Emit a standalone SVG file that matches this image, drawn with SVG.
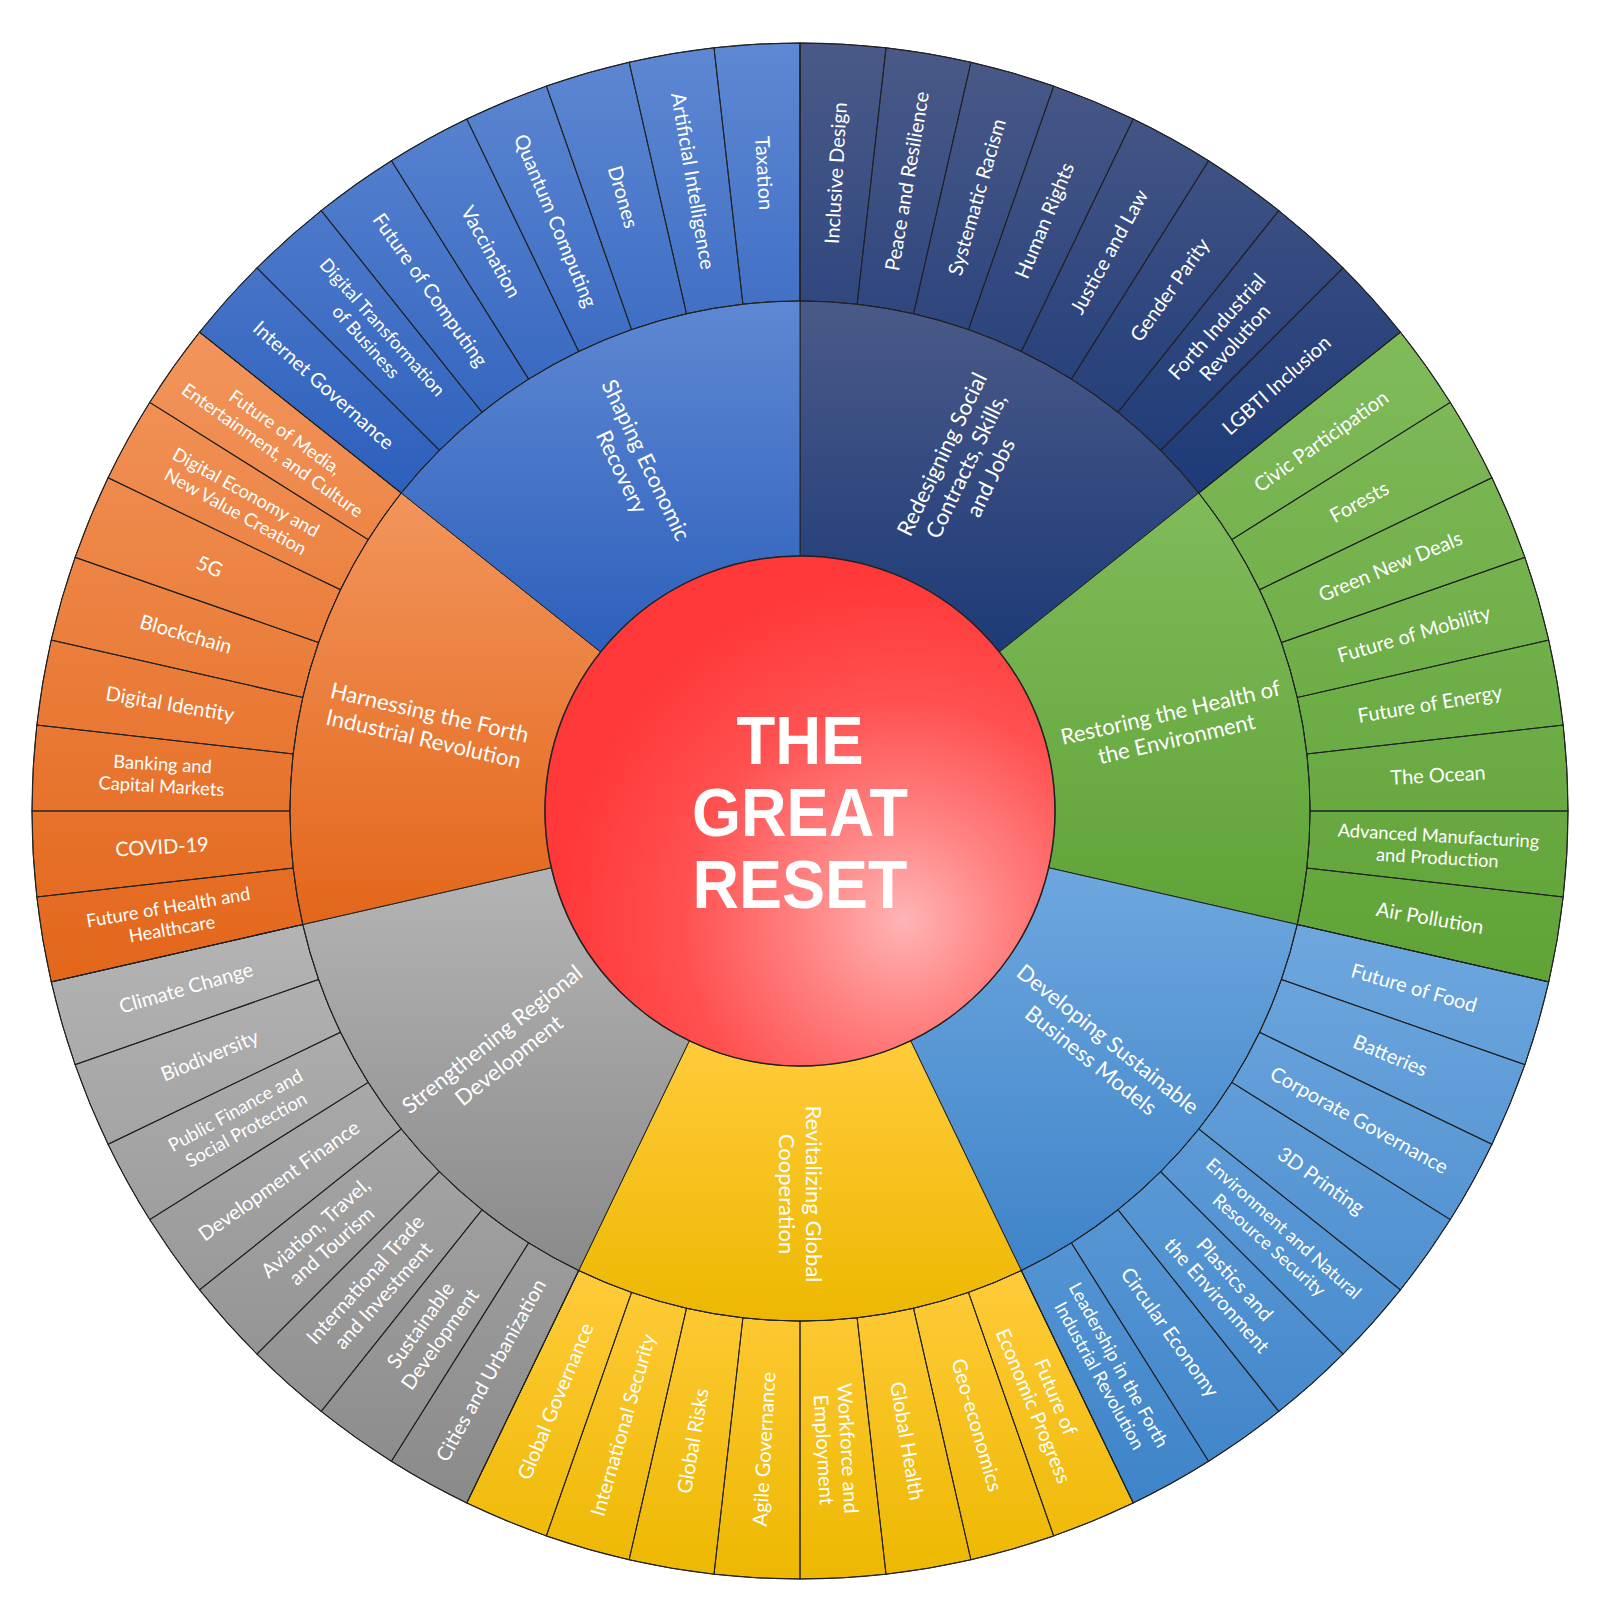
<svg xmlns="http://www.w3.org/2000/svg" xmlns:xlink="http://www.w3.org/1999/xlink" width="1600" height="1624" viewBox="0 0 1600 1624">
<defs>
<style>
.band{stroke:#222;stroke-width:1}
.sector{stroke:#222;stroke-width:1}
.lo{fill:none;stroke:#222;stroke-width:1}
.lbl{font-family:Lato,'Liberation Sans',sans-serif;fill:#fff;text-anchor:middle;font-size:20px}
.sm{font-size:18.3px}
.mid{font-size:22px}
.title{font-family:'Liberation Sans',Arial,sans-serif;font-weight:bold;font-size:68px;fill:#fff;text-anchor:middle}
</style>
<linearGradient id="g-navy" x1="0" y1="0" x2="0" y2="1"><stop offset="0" stop-color="#4A5A88"/><stop offset="1" stop-color="#1D3A78"/></linearGradient>
<linearGradient id="g-green" x1="0" y1="0" x2="0" y2="1"><stop offset="0" stop-color="#80BB5A"/><stop offset="1" stop-color="#5FA337"/></linearGradient>
<linearGradient id="g-lblue" x1="0" y1="0" x2="0" y2="1"><stop offset="0" stop-color="#6EA7DE"/><stop offset="1" stop-color="#3E84C9"/></linearGradient>
<linearGradient id="g-yellow" x1="0" y1="0" x2="0" y2="1"><stop offset="0" stop-color="#FFCB3A"/><stop offset="1" stop-color="#EDB800"/></linearGradient>
<linearGradient id="g-gray" x1="0" y1="0" x2="0" y2="1"><stop offset="0" stop-color="#B4B4B4"/><stop offset="1" stop-color="#8A8A8A"/></linearGradient>
<linearGradient id="g-orange" x1="0" y1="0" x2="0" y2="1"><stop offset="0" stop-color="#F2955C"/><stop offset="1" stop-color="#E3661A"/></linearGradient>
<linearGradient id="g-blue" x1="0" y1="0" x2="0" y2="1"><stop offset="0" stop-color="#5E88D3"/><stop offset="1" stop-color="#2D60BC"/></linearGradient>
<radialGradient id="g-red" gradientUnits="userSpaceOnUse" cx="903" cy="920" r="340"><stop offset="0" stop-color="#FFB4B4"/><stop offset="0.3" stop-color="#FF8282"/><stop offset="0.65" stop-color="#FF5050"/><stop offset="1" stop-color="#FF3939"/></radialGradient>
<path id="leafShape" d="M 756.938 44.208 A 768 768 0 0 1 843.062 44.208 L 828.596 301.802 A 510 510 0 0 0 771.404 301.802 Z"/>
</defs>

<g id="bands">
<path class="band" fill="url(#g-navy)" d="M 800 43 A 768 768 0 0 1 1400.446 332.160 L 1198.734 493.020 A 510 510 0 0 0 800 301 Z"/>
<path class="band" fill="url(#g-green)" d="M 1400.446 332.160 A 768 768 0 0 1 1548.745 981.896 L 1297.213 924.486 A 510 510 0 0 0 1198.734 493.020 Z"/>
<path class="band" fill="url(#g-lblue)" d="M 1548.745 981.896 A 768 768 0 0 1 1133.223 1502.944 L 1021.281 1270.494 A 510 510 0 0 0 1297.213 924.486 Z"/>
<path class="band" fill="url(#g-yellow)" d="M 1133.223 1502.944 A 768 768 0 0 1 466.777 1502.944 L 578.719 1270.494 A 510 510 0 0 0 1021.281 1270.494 Z"/>
<path class="band" fill="url(#g-gray)" d="M 466.777 1502.944 A 768 768 0 0 1 51.255 981.896 L 302.787 924.486 A 510 510 0 0 0 578.719 1270.494 Z"/>
<path class="band" fill="url(#g-orange)" d="M 51.255 981.896 A 768 768 0 0 1 199.554 332.160 L 401.266 493.020 A 510 510 0 0 0 302.787 924.486 Z"/>
<path class="band" fill="url(#g-blue)" d="M 199.554 332.160 A 768 768 0 0 1 800 43 L 800 301 A 510 510 0 0 0 401.266 493.020 Z"/>
</g>

<g id="cat-redesigning">
<path class="sector" fill="url(#g-navy)" d="M 800 301 A 510 510 0 0 1 1198.734 493.020 L 999.367 652.010 A 255 255 0 0 0 800 556 Z"/>
<text class="lbl mid" transform="rotate(25.714 800 811) translate(800 428) rotate(-90)"><tspan x="0" y="-19.3">Redesigning Social</tspan><tspan x="0" y="7.7">Contracts, Skills,</tspan><tspan x="0" y="34.7">and Jobs</tspan></text>
</g>
<g id="cat-restoring">
<path class="sector" fill="url(#g-green)" d="M 1198.734 493.020 A 510 510 0 0 1 1297.213 924.486 L 1048.607 867.743 A 255 255 0 0 0 999.367 652.010 Z"/>
<text class="lbl mid" transform="rotate(77.143 800 811) translate(800 428) rotate(-90)"><tspan x="0" y="-5.8">Restoring the Health of</tspan><tspan x="0" y="21.2">the Environment</tspan></text>
</g>
<g id="cat-developing">
<path class="sector" fill="url(#g-lblue)" d="M 1297.213 924.486 A 510 510 0 0 1 1021.281 1270.494 L 910.640 1040.747 A 255 255 0 0 0 1048.607 867.743 Z"/>
<text class="lbl mid" transform="rotate(128.571 800 811) translate(800 428) rotate(-90)"><tspan x="0" y="-5.8">Developing Sustainable</tspan><tspan x="0" y="21.2">Business Models</tspan></text>
</g>
<g id="cat-revitalizing">
<path class="sector" fill="url(#g-yellow)" d="M 1021.281 1270.494 A 510 510 0 0 1 578.719 1270.494 L 689.360 1040.747 A 255 255 0 0 0 910.640 1040.747 Z"/>
<text class="lbl mid" transform="rotate(180 800 811) translate(800 428) rotate(-90)"><tspan x="0" y="-5.8">Revitalizing Global</tspan><tspan x="0" y="21.2">Cooperation</tspan></text>
</g>
<g id="cat-strengthening">
<path class="sector" fill="url(#g-gray)" d="M 578.719 1270.494 A 510 510 0 0 1 302.787 924.486 L 551.393 867.743 A 255 255 0 0 0 689.360 1040.747 Z"/>
<text class="lbl mid" transform="rotate(231.429 800 811) translate(800 428) rotate(90)"><tspan x="0" y="-5.8">Strengthening Regional</tspan><tspan x="0" y="21.2">Development</tspan></text>
</g>
<g id="cat-harnessing">
<path class="sector" fill="url(#g-orange)" d="M 302.787 924.486 A 510 510 0 0 1 401.266 493.020 L 600.633 652.010 A 255 255 0 0 0 551.393 867.743 Z"/>
<text class="lbl mid" transform="rotate(282.857 800 811) translate(800 428) rotate(90)"><tspan x="0" y="-5.8">Harnessing the Forth</tspan><tspan x="0" y="21.2">Industrial Revolution</tspan></text>
</g>
<g id="cat-shaping">
<path class="sector" fill="url(#g-blue)" d="M 401.266 493.020 A 510 510 0 0 1 800 301 L 800 556 A 255 255 0 0 0 600.633 652.010 Z"/>
<text class="lbl mid" transform="rotate(334.286 800 811) translate(800 428) rotate(90)"><tspan x="0" y="-5.8">Shaping Economic</tspan><tspan x="0" y="21.2">Recovery</tspan></text>
</g>

<g id="leaves">
<g id="leaf-00"><use href="#leafShape" class="lo" transform="rotate(3.214 800 811)"/><text class="lbl" y="7" transform="rotate(3.214 800 811) translate(800 172) rotate(-90)">Inclusive Design</text></g>
<g id="leaf-01"><use href="#leafShape" class="lo" transform="rotate(9.643 800 811)"/><text class="lbl" y="7" transform="rotate(9.643 800 811) translate(800 172) rotate(-90)">Peace and Resilience</text></g>
<g id="leaf-02"><use href="#leafShape" class="lo" transform="rotate(16.071 800 811)"/><text class="lbl" y="7" transform="rotate(16.071 800 811) translate(800 172) rotate(-90)">Systematic Racism</text></g>
<g id="leaf-03"><use href="#leafShape" class="lo" transform="rotate(22.5 800 811)"/><text class="lbl" y="7" transform="rotate(22.5 800 811) translate(800 172) rotate(-90)">Human Rights</text></g>
<g id="leaf-04"><use href="#leafShape" class="lo" transform="rotate(28.929 800 811)"/><text class="lbl" y="7" transform="rotate(28.929 800 811) translate(800 172) rotate(-90)">Justice and Law</text></g>
<g id="leaf-05"><use href="#leafShape" class="lo" transform="rotate(35.357 800 811)"/><text class="lbl" y="7" transform="rotate(35.357 800 811) translate(800 172) rotate(-90)">Gender Parity</text></g>
<g id="leaf-06"><use href="#leafShape" class="lo" transform="rotate(41.786 800 811)"/><text class="lbl" transform="rotate(41.786 800 811) translate(800 172) rotate(-90)"><tspan x="0" y="-5">Forth Industrial</tspan><tspan x="0" y="19">Revolution</tspan></text></g>
<g id="leaf-07"><use href="#leafShape" class="lo" transform="rotate(48.214 800 811)"/><text class="lbl" y="7" transform="rotate(48.214 800 811) translate(800 172) rotate(-90)">LGBTI Inclusion</text></g>

<g id="leaf-08"><use href="#leafShape" class="lo" transform="rotate(54.643 800 811)"/><text class="lbl" y="7" transform="rotate(54.643 800 811) translate(800 172) rotate(-90)">Civic Participation</text></g>
<g id="leaf-09"><use href="#leafShape" class="lo" transform="rotate(61.071 800 811)"/><text class="lbl" y="7" transform="rotate(61.071 800 811) translate(800 172) rotate(-90)">Forests</text></g>
<g id="leaf-10"><use href="#leafShape" class="lo" transform="rotate(67.5 800 811)"/><text class="lbl" y="7" transform="rotate(67.5 800 811) translate(800 172) rotate(-90)">Green New Deals</text></g>
<g id="leaf-11"><use href="#leafShape" class="lo" transform="rotate(73.929 800 811)"/><text class="lbl" y="7" transform="rotate(73.929 800 811) translate(800 172) rotate(-90)">Future of Mobility</text></g>
<g id="leaf-12"><use href="#leafShape" class="lo" transform="rotate(80.357 800 811)"/><text class="lbl" y="7" transform="rotate(80.357 800 811) translate(800 172) rotate(-90)">Future of Energy</text></g>
<g id="leaf-13"><use href="#leafShape" class="lo" transform="rotate(86.786 800 811)"/><text class="lbl" y="7" transform="rotate(86.786 800 811) translate(800 172) rotate(-90)">The Ocean</text></g>
<g id="leaf-14"><use href="#leafShape" class="lo" transform="rotate(93.214 800 811)"/><text class="lbl sm" transform="rotate(93.214 800 811) translate(800 172) rotate(-90)"><tspan x="0" y="-4.6">Advanced Manufacturing</tspan><tspan x="0" y="17.4">and Production</tspan></text></g>
<g id="leaf-15"><use href="#leafShape" class="lo" transform="rotate(99.643 800 811)"/><text class="lbl" y="7" transform="rotate(99.643 800 811) translate(800 172) rotate(-90)">Air Pollution</text></g>

<g id="leaf-16"><use href="#leafShape" class="lo" transform="rotate(106.071 800 811)"/><text class="lbl" y="7" transform="rotate(106.071 800 811) translate(800 172) rotate(-90)">Future of Food</text></g>
<g id="leaf-17"><use href="#leafShape" class="lo" transform="rotate(112.5 800 811)"/><text class="lbl" y="7" transform="rotate(112.5 800 811) translate(800 172) rotate(-90)">Batteries</text></g>
<g id="leaf-18"><use href="#leafShape" class="lo" transform="rotate(118.929 800 811)"/><text class="lbl" y="7" transform="rotate(118.929 800 811) translate(800 172) rotate(-90)">Corporate Governance</text></g>
<g id="leaf-19"><use href="#leafShape" class="lo" transform="rotate(125.357 800 811)"/><text class="lbl" y="7" transform="rotate(125.357 800 811) translate(800 172) rotate(-90)">3D Printing</text></g>
<g id="leaf-20"><use href="#leafShape" class="lo" transform="rotate(131.786 800 811)"/><text class="lbl sm" transform="rotate(131.786 800 811) translate(800 172) rotate(-90)"><tspan x="0" y="-4.6">Environment and Natural</tspan><tspan x="0" y="17.4">Resource Security</tspan></text></g>
<g id="leaf-21"><use href="#leafShape" class="lo" transform="rotate(138.214 800 811)"/><text class="lbl" transform="rotate(138.214 800 811) translate(800 172) rotate(-90)"><tspan x="0" y="-5">Plastics and</tspan><tspan x="0" y="19">the Environment</tspan></text></g>
<g id="leaf-22"><use href="#leafShape" class="lo" transform="rotate(144.643 800 811)"/><text class="lbl" y="7" transform="rotate(144.643 800 811) translate(800 172) rotate(-90)">Circular Economy</text></g>
<g id="leaf-23"><use href="#leafShape" class="lo" transform="rotate(151.071 800 811)"/><text class="lbl sm" transform="rotate(151.071 800 811) translate(800 172) rotate(-90)"><tspan x="0" y="-4.6">Leadership in the Forth</tspan><tspan x="0" y="17.4">Industrial Revolution</tspan></text></g>

<g id="leaf-24"><use href="#leafShape" class="lo" transform="rotate(157.5 800 811)"/><text class="lbl" transform="rotate(157.5 800 811) translate(800 172) rotate(-90)"><tspan x="0" y="-5">Future of</tspan><tspan x="0" y="19">Economic Progress</tspan></text></g>
<g id="leaf-25"><use href="#leafShape" class="lo" transform="rotate(163.929 800 811)"/><text class="lbl" y="7" transform="rotate(163.929 800 811) translate(800 172) rotate(-90)">Geo-economics</text></g>
<g id="leaf-26"><use href="#leafShape" class="lo" transform="rotate(170.357 800 811)"/><text class="lbl" y="7" transform="rotate(170.357 800 811) translate(800 172) rotate(-90)">Global Health</text></g>
<g id="leaf-27"><use href="#leafShape" class="lo" transform="rotate(176.786 800 811)"/><text class="lbl" transform="rotate(176.786 800 811) translate(800 172) rotate(-90)"><tspan x="0" y="-5">Workforce and</tspan><tspan x="0" y="19">Employment</tspan></text></g>
<g id="leaf-28"><use href="#leafShape" class="lo" transform="rotate(183.214 800 811)"/><text class="lbl" y="7" transform="rotate(183.214 800 811) translate(800 172) rotate(90)">Agile Governance</text></g>
<g id="leaf-29"><use href="#leafShape" class="lo" transform="rotate(189.643 800 811)"/><text class="lbl" y="7" transform="rotate(189.643 800 811) translate(800 172) rotate(90)">Global Risks</text></g>
<g id="leaf-30"><use href="#leafShape" class="lo" transform="rotate(196.071 800 811)"/><text class="lbl" y="7" transform="rotate(196.071 800 811) translate(800 172) rotate(90)">International Security</text></g>
<g id="leaf-31"><use href="#leafShape" class="lo" transform="rotate(202.5 800 811)"/><text class="lbl" y="7" transform="rotate(202.5 800 811) translate(800 172) rotate(90)">Global Governance</text></g>

<g id="leaf-32"><use href="#leafShape" class="lo" transform="rotate(208.929 800 811)"/><text class="lbl" y="7" transform="rotate(208.929 800 811) translate(800 172) rotate(90)">Cities and Urbanization</text></g>
<g id="leaf-33"><use href="#leafShape" class="lo" transform="rotate(215.357 800 811)"/><text class="lbl" transform="rotate(215.357 800 811) translate(800 172) rotate(90)"><tspan x="0" y="-5">Sustainable</tspan><tspan x="0" y="19">Development</tspan></text></g>
<g id="leaf-34"><use href="#leafShape" class="lo" transform="rotate(221.786 800 811)"/><text class="lbl" transform="rotate(221.786 800 811) translate(800 172) rotate(90)"><tspan x="0" y="-5">International Trade</tspan><tspan x="0" y="19">and Investment</tspan></text></g>
<g id="leaf-35"><use href="#leafShape" class="lo" transform="rotate(228.214 800 811)"/><text class="lbl" transform="rotate(228.214 800 811) translate(800 172) rotate(90)"><tspan x="0" y="-5">Aviation, Travel,</tspan><tspan x="0" y="19">and Tourism</tspan></text></g>
<g id="leaf-36"><use href="#leafShape" class="lo" transform="rotate(234.643 800 811)"/><text class="lbl" y="7" transform="rotate(234.643 800 811) translate(800 172) rotate(90)">Development Finance</text></g>
<g id="leaf-37"><use href="#leafShape" class="lo" transform="rotate(241.071 800 811)"/><text class="lbl sm" transform="rotate(241.071 800 811) translate(800 172) rotate(90)"><tspan x="0" y="-4.6">Public Finance and</tspan><tspan x="0" y="17.4">Social Protection</tspan></text></g>
<g id="leaf-38"><use href="#leafShape" class="lo" transform="rotate(247.5 800 811)"/><text class="lbl" y="7" transform="rotate(247.5 800 811) translate(800 172) rotate(90)">Biodiversity</text></g>
<g id="leaf-39"><use href="#leafShape" class="lo" transform="rotate(253.929 800 811)"/><text class="lbl" y="7" transform="rotate(253.929 800 811) translate(800 172) rotate(90)">Climate Change</text></g>

<g id="leaf-40"><use href="#leafShape" class="lo" transform="rotate(260.357 800 811)"/><text class="lbl sm" transform="rotate(260.357 800 811) translate(800 172) rotate(90)"><tspan x="0" y="-4.6">Future of Health and</tspan><tspan x="0" y="17.4">Healthcare</tspan></text></g>
<g id="leaf-41"><use href="#leafShape" class="lo" transform="rotate(266.786 800 811)"/><text class="lbl" y="7" transform="rotate(266.786 800 811) translate(800 172) rotate(90)">COVID-19</text></g>
<g id="leaf-42"><use href="#leafShape" class="lo" transform="rotate(273.214 800 811)"/><text class="lbl sm" transform="rotate(273.214 800 811) translate(800 172) rotate(90)"><tspan x="0" y="-4.6">Banking and</tspan><tspan x="0" y="17.4">Capital Markets</tspan></text></g>
<g id="leaf-43"><use href="#leafShape" class="lo" transform="rotate(279.643 800 811)"/><text class="lbl" y="7" transform="rotate(279.643 800 811) translate(800 172) rotate(90)">Digital Identity</text></g>
<g id="leaf-44"><use href="#leafShape" class="lo" transform="rotate(286.071 800 811)"/><text class="lbl" y="7" transform="rotate(286.071 800 811) translate(800 172) rotate(90)">Blockchain</text></g>
<g id="leaf-45"><use href="#leafShape" class="lo" transform="rotate(292.5 800 811)"/><text class="lbl" y="7" transform="rotate(292.5 800 811) translate(800 172) rotate(90)">5G</text></g>
<g id="leaf-46"><use href="#leafShape" class="lo" transform="rotate(298.929 800 811)"/><text class="lbl sm" transform="rotate(298.929 800 811) translate(800 172) rotate(90)"><tspan x="0" y="-4.6">Digital Economy and</tspan><tspan x="0" y="17.4">New Value Creation</tspan></text></g>
<g id="leaf-47"><use href="#leafShape" class="lo" transform="rotate(305.357 800 811)"/><text class="lbl sm" transform="rotate(305.357 800 811) translate(800 172) rotate(90)"><tspan x="0" y="-4.6">Future of Media,</tspan><tspan x="0" y="17.4">Entertainment, and Culture</tspan></text></g>

<g id="leaf-48"><use href="#leafShape" class="lo" transform="rotate(311.786 800 811)"/><text class="lbl" y="7" transform="rotate(311.786 800 811) translate(800 172) rotate(90)">Internet Governance</text></g>
<g id="leaf-49"><use href="#leafShape" class="lo" transform="rotate(318.214 800 811)"/><text class="lbl sm" transform="rotate(318.214 800 811) translate(800 172) rotate(90)"><tspan x="0" y="-4.6">Digital Transformation</tspan><tspan x="0" y="17.4">of Business</tspan></text></g>
<g id="leaf-50"><use href="#leafShape" class="lo" transform="rotate(324.643 800 811)"/><text class="lbl" y="7" transform="rotate(324.643 800 811) translate(800 172) rotate(90)">Future of Computing</text></g>
<g id="leaf-51"><use href="#leafShape" class="lo" transform="rotate(331.071 800 811)"/><text class="lbl" y="7" transform="rotate(331.071 800 811) translate(800 172) rotate(90)">Vaccination</text></g>
<g id="leaf-52"><use href="#leafShape" class="lo" transform="rotate(337.5 800 811)"/><text class="lbl" y="7" transform="rotate(337.5 800 811) translate(800 172) rotate(90)">Quantum Computing</text></g>
<g id="leaf-53"><use href="#leafShape" class="lo" transform="rotate(343.929 800 811)"/><text class="lbl" y="7" transform="rotate(343.929 800 811) translate(800 172) rotate(90)">Drones</text></g>
<g id="leaf-54"><use href="#leafShape" class="lo" transform="rotate(350.357 800 811)"/><text class="lbl" y="7" transform="rotate(350.357 800 811) translate(800 172) rotate(90)">Artificial Intelligence</text></g>
<g id="leaf-55"><use href="#leafShape" class="lo" transform="rotate(356.786 800 811)"/><text class="lbl" y="7" transform="rotate(356.786 800 811) translate(800 172) rotate(90)">Taxation</text></g>
</g>

<g id="center">
<circle cx="800" cy="811" r="255" fill="url(#g-red)" stroke="#222" stroke-width="1.5"/>
<text class="title" x="800" y="763.5" textLength="127" lengthAdjust="spacingAndGlyphs">THE</text>
<text class="title" x="800" y="835.5" textLength="216" lengthAdjust="spacingAndGlyphs">GREAT</text>
<text class="title" x="800" y="908" textLength="215" lengthAdjust="spacingAndGlyphs">RESET</text>
</g>
</svg>
